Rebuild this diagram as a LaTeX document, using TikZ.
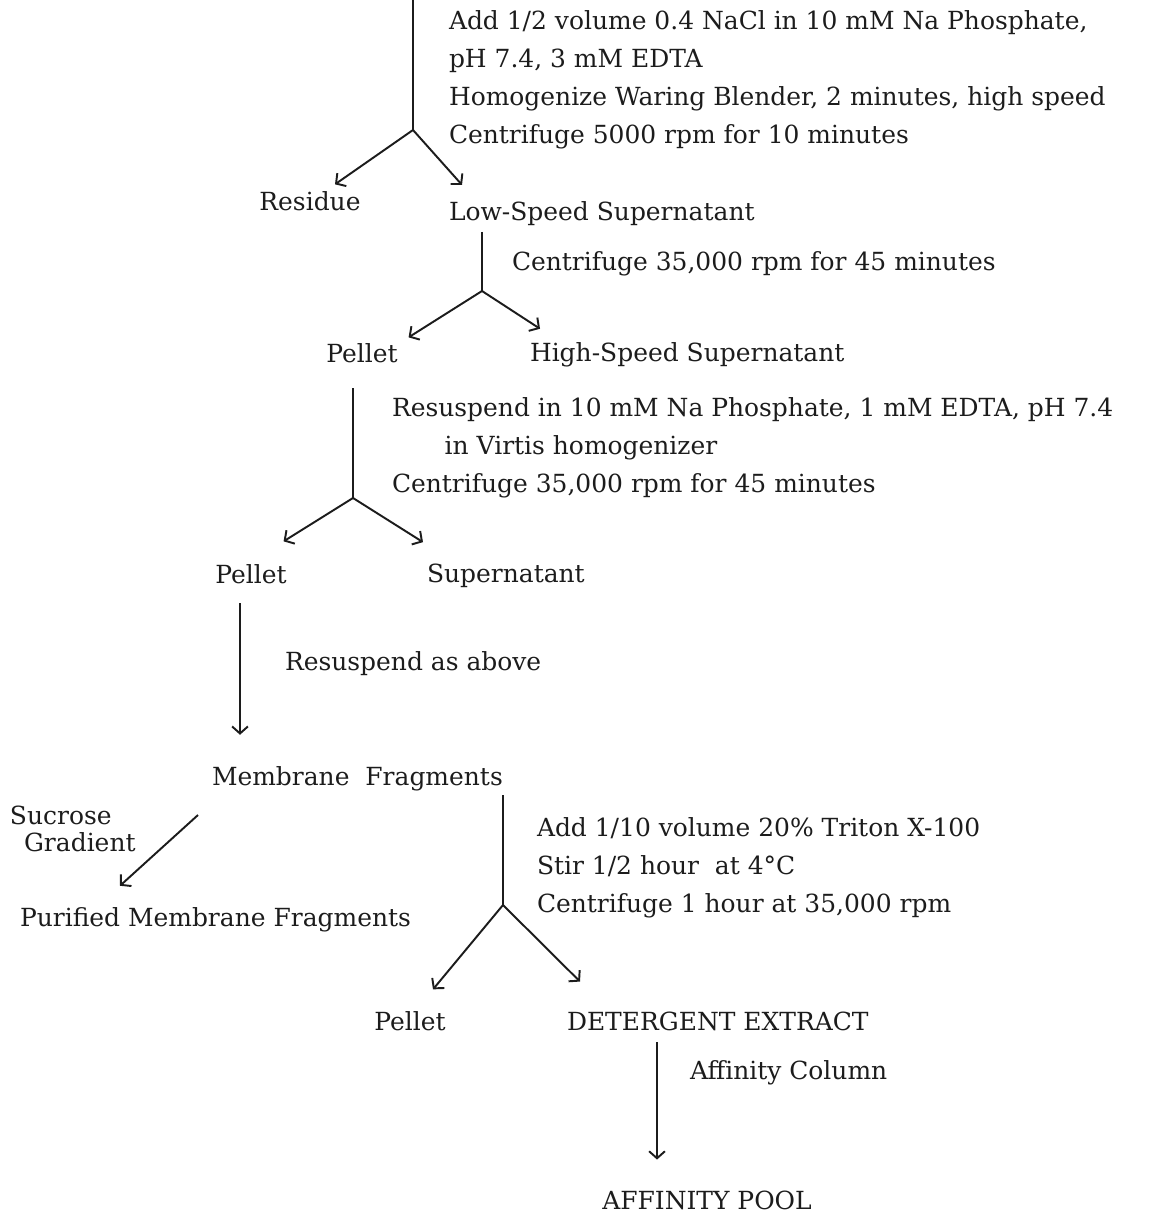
\documentclass[tikz,border=0pt]{standalone}
\usepackage{fontspec}
\setmainfont{DejaVu Serif}
\usepackage{tikz}
\usetikzlibrary{positioning, arrows.meta}
\definecolor{Ink}{RGB}{28,28,28}
\newcommand{\flowfont}{\fontsize{14.2}{21.6}\selectfont}
\tikzset{
  txt/.style={font=\flowfont, Ink, inner sep=0pt, outer sep=0pt},
  stem/.style={Ink, line width=1.1pt},
  flow/.style={Ink, line width=1.1pt, -{Straight Barb[length=4pt,width=9pt]}}
}

\begin{document}
\begin{tikzpicture}[x=0.02cm, y=-0.02cm]
  \useasboundingbox (0,0) rectangle (1155,1213);

  % Homogenate
  \coordinate (in) at (413,0);
  \coordinate (s1) at (413,130);
  \node[txt, anchor=west, align=left] (step1) at (449,80)
    {Add 1/2 volume 0.4 NaCl in 10 mM Na Phosphate,\\
     pH 7.4, 3 mM EDTA\\
     Homogenize Waring Blender, 2 minutes, high speed\\
     Centrifuge 5000 rpm for 10 minutes};
  \node[txt] (residue) at (310,201) {Residue};
  \node[txt, anchor=west] (lowsup) at (449,214) {Low-Speed Supernatant};
  \draw[stem] (in) -- (s1);
  \draw[flow] (s1) -- ([shift={(25,-7)}]residue.north);
  \draw[flow] (s1) -- ([shift={(13,-17)}]lowsup.north west);

  % High-speed spin
  \coordinate (c2) at (482,232);
  \coordinate (s2) at (482,291);
  \node[txt, anchor=west] (step2) at (512,264)
    {Centrifuge 35,000 rpm for 45 minutes};
  \node[txt] (pellet1) at (362,353) {Pellet};
  \node[txt, anchor=west] (highsup) at (530,355) {High-Speed Supernatant};
  \draw[stem] (c2) -- (s2);
  \draw[flow] (s2) -- ([shift={(11,-6)}]pellet1.north east);
  \draw[flow] (s2) -- ([shift={(10,-14)}]highsup.north west);

  % Wash
  \coordinate (c3) at (353,388);
  \coordinate (s3) at (353,498);
  \node[txt, anchor=west, align=left] (step3) at (392,448)
    {Resuspend in 10 mM Na Phosphate, 1 mM EDTA, pH 7.4\\
     \hspace*{30pt}in Virtis homogenizer\\
     Centrifuge 35,000 rpm for 45 minutes};
  \node[txt] (pellet2) at (251,574) {Pellet};
  \node[txt, anchor=west] (supern) at (427,576) {Supernatant};
  \draw[stem] (c3) -- (s3);
  \draw[flow] (s3) -- ([shift={(-3,-23)}]pellet2.north east);
  \draw[flow] (s3) -- ([shift={(-4,-22)}]supern.north west);

  % Second wash
  \coordinate (c4) at (240,603);
  \node[txt, anchor=west] (step4) at (285,664) {Resuspend as above};
  \node[txt, anchor=west] (membrane) at (212,779) {Membrane\ \ Fragments};
  \draw[flow] (c4) -- ([shift={(28,-32)}]membrane.north west);

  % Sucrose gradient
  \coordinate (c5) at (198,815);
  \node[txt, anchor=west, align=left, font={\fontsize{14.2}{15}\selectfont}]
    (sucrose) at (10,829) {Sucrose\\\hspace*{8pt}Gradient};
  \node[txt, anchor=west] (purified) at (20,920) {Purified Membrane Fragments};
  \draw[flow] (c5) -- ([shift={(100,-22)}]purified.north west);

  % Detergent extraction
  \coordinate (c6) at (503,795);
  \coordinate (s6) at (503,905);
  \node[txt, anchor=west, align=left] (step5) at (537,868)
    {Add 1/10 volume 20\% Triton X-100\\
     Stir 1/2 hour\ \ at 4°C\\
     Centrifuge 1 hour at 35,000 rpm};
  \node[txt] (pellet3) at (410,1021) {Pellet};
  \node[txt, anchor=west] (detergent) at (567,1021) {DETERGENT EXTRACT};
  \draw[stem] (c6) -- (s6);
  \draw[flow] (s6) -- ([shift={(23,-22)}]pellet3.north);
  \draw[flow] (s6) -- ([shift={(13,-30)}]detergent.north west);

  % Affinity column
  \coordinate (c7) at (657,1042);
  \node[txt, anchor=west] (step6) at (690,1073) {Affinity Column};
  \node[txt] (pool) at (707,1200) {AFFINITY POOL};
  \draw[flow] (c7) -- ([shift={(-50,-31)}]pool.north);
\end{tikzpicture}
\end{document}
